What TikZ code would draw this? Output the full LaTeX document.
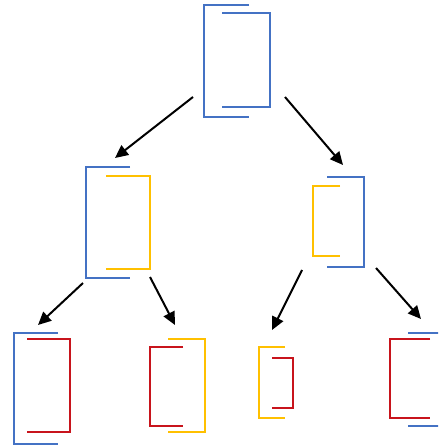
\documentclass[tikz,border=0pt]{standalone}
\usepackage{xcolor}
\usetikzlibrary{arrows.meta, positioning}

\definecolor{sortblue}{RGB}{68,114,196}
\definecolor{sortyellow}{RGB}{255,192,0}
\definecolor{sortred}{RGB}{200,20,28}

% colour, x of the upright, x of the open end, top, bottom
\newcommand{\brkt}[5]{\draw[brk, #1] (#3, #4) -| (#2, #5) -- (#3, #5);}

\begin{document}
\begin{tikzpicture}[x=1pt, y=-1pt,
    brk/.style={line width=2.8pt},
    arr/.style={->, line width=2pt},
    >={Triangle[length=13pt, width=12pt]}]
                        \clip (0, 0) rectangle (438, 446);

                        \brkt{sortblue}{204}{249}{5}{117}
                        \brkt{sortblue}{270}{222}{13}{107}

                        \brkt{sortblue}{86}{130}{167}{278}
                        \brkt{sortyellow}{150}{106}{176}{269}

                        \brkt{sortyellow}{313}{340}{186}{256}
                        \brkt{sortblue}{364}{327}{177}{267}

                        \brkt{sortblue}{14}{58}{333}{444}
                        \brkt{sortred}{70}{27}{339}{432}

                        \brkt{sortred}{150}{183}{347}{426}
                        \brkt{sortyellow}{205}{168}{339}{432}

                        \brkt{sortyellow}{259}{285}{347}{418}
                        \brkt{sortred}{293}{272}{358}{408}

                        \brkt{sortred}{390}{430}{339}{418}
                        \brkt{sortblue}{452}{408}{333}{426}

                        \coordinate (root-l) at (193, 97);
                        \coordinate (root-r) at (285, 97);
                        \coordinate (left) at (115, 158);
                        \coordinate (right) at (343, 165);
                        \coordinate (left-l) at (83, 283);
                        \coordinate (left-r) at (150, 277);
                        \coordinate (right-l) at (302, 270);
                        \coordinate (right-r) at (376, 268);
                        \coordinate (ll) at (38, 325);
                        \coordinate (lr) at (175, 325);
                        \coordinate (rl) at (272, 330);
                        \coordinate (rr) at (421, 319);

                        \draw
                        (root-l) edge[arr] (left)
                        (root-r) edge[arr] (right)
                        (left-l) edge[arr] (ll)
                        (left-r) edge[arr] (lr)
                        (right-l) edge[arr] (rl)
                        (right-r) edge[arr] (rr);
                    \end{tikzpicture}
\end{document}
